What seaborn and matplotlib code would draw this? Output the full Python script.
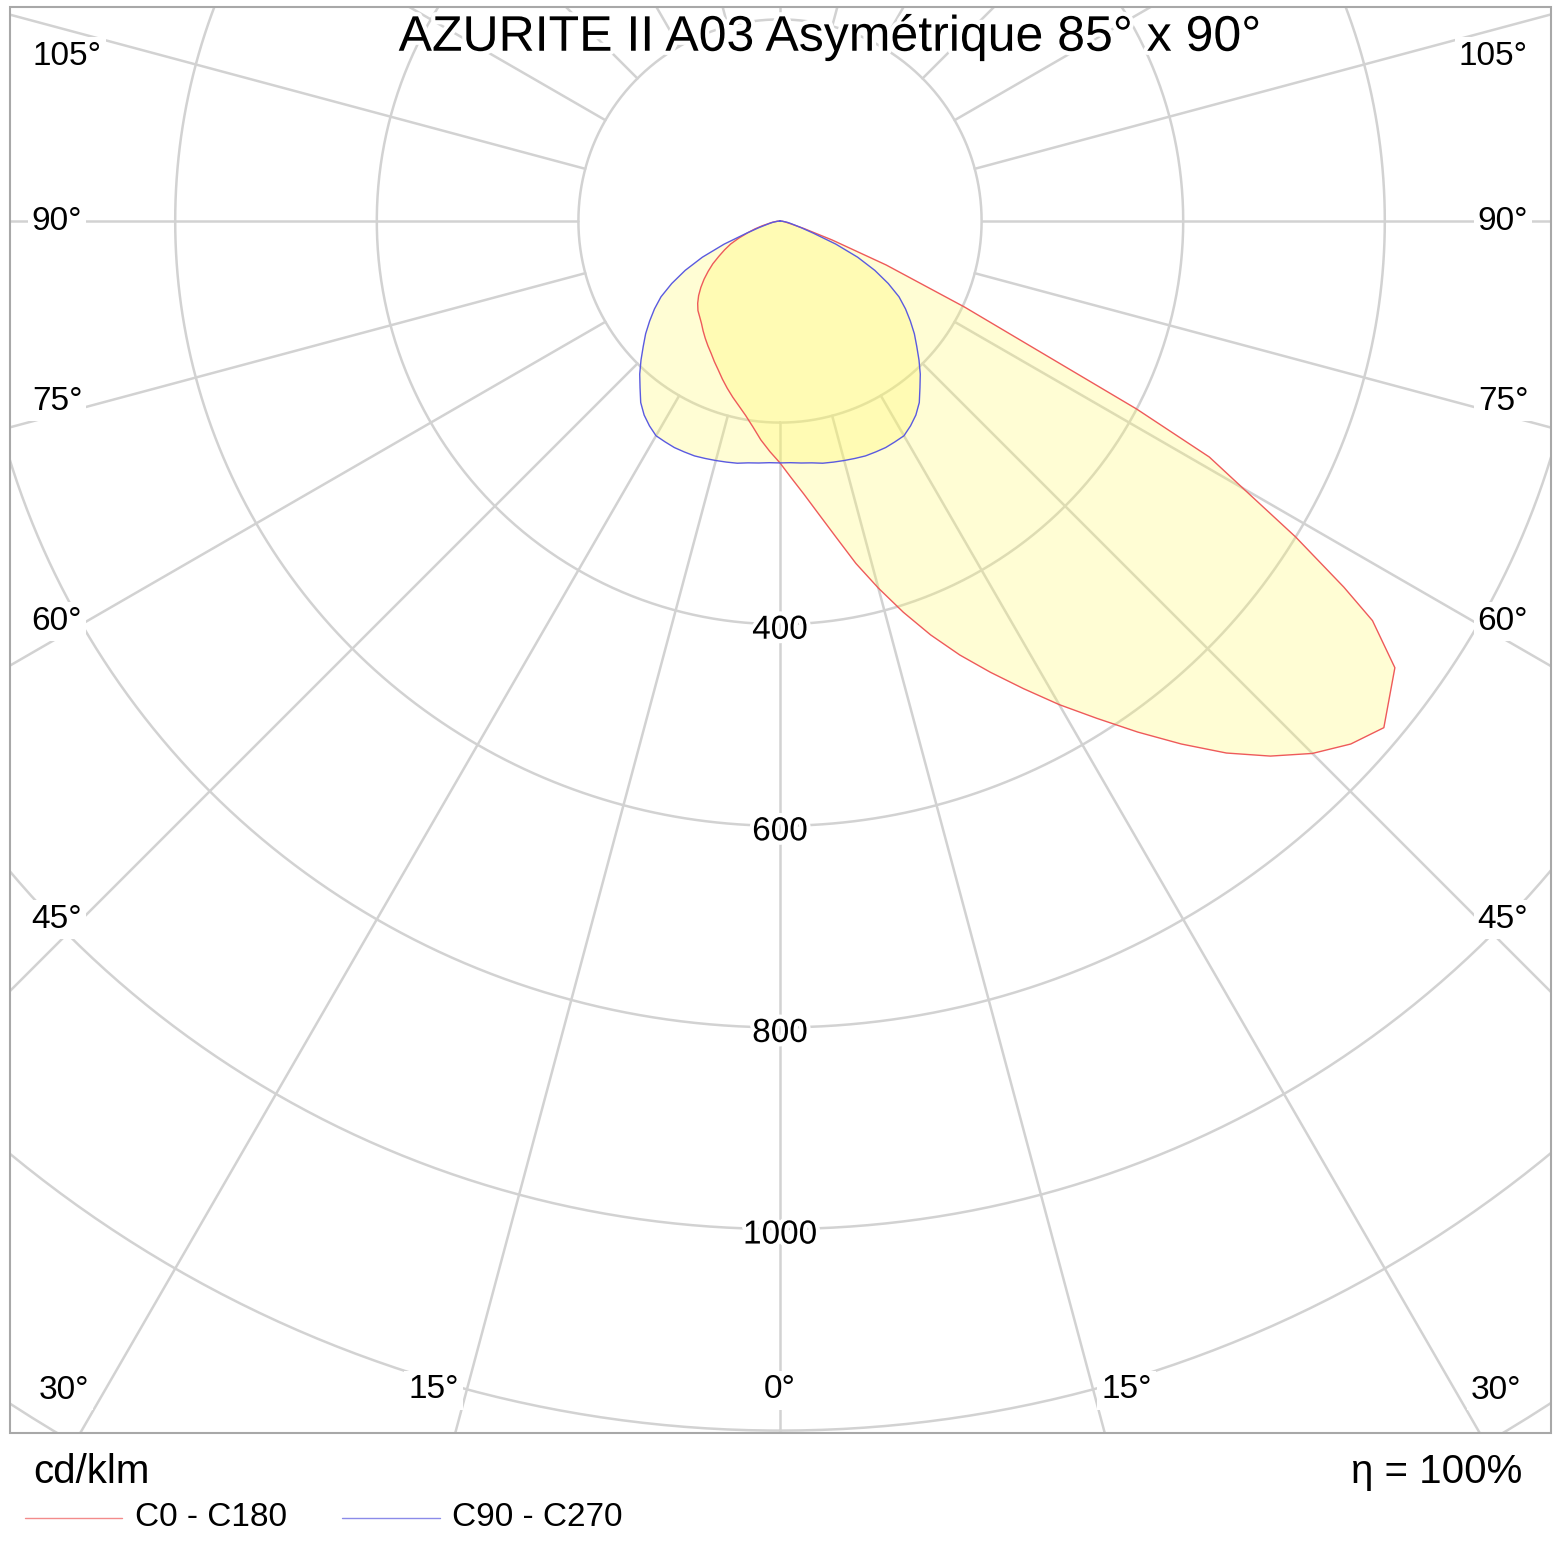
import numpy as np
import matplotlib
matplotlib.use("Agg")
import matplotlib.pyplot as plt
import matplotlib.patheffects as pe
from matplotlib.patches import Rectangle
from matplotlib.lines import Line2D
import seaborn as sns

# --- Données photométriques (cd/klm) ---
gamma_c0 = [0, 2.5, 5, 7.5, 10, 12.5, 15, 17.5, 20, 22.5, 25, 27.5, 30, 32.5, 35, 37.5, 40,
            42.5, 45, 47.5, 50, 54, 56, 57, 58.5, 59.7, 61.2, 62.2, 65, 67.5, 70, 72.5, 75,
            80, 85, 90]
i_c0 = [240, 255, 272, 293, 318, 348, 377, 407, 437, 466, 494, 523, 554, 585, 619, 654, 689,
        720, 747, 768, 782, 754, 709, 667, 600, 543, 486, 400, 202, 114, 55, 25, 12,
        5, 2, 0]

gamma_c180 = [0, 2.5, 5, 7.5, 10, 12.5, 15, 17.5, 20, 22.5, 25, 27.5, 30, 32.5, 35, 37.5, 40,
              42.5, 45, 47.5, 50, 52.5, 55, 57.5, 60, 62.5, 65, 67.5, 70, 72.5, 75, 80, 85, 90]
i_c180 = [240, 229, 218, 206, 196, 188, 181, 174, 167, 160, 154, 148, 143, 138, 133, 128, 124,
          120.5, 115.5, 109.5, 102.5, 95, 87, 79, 70, 62, 54, 44, 34, 26, 18, 8, 3, 0]

gamma_c90 = [0, 2.5, 5, 7.5, 10, 12.5, 15, 17.5, 20, 22.5, 25, 27.5, 30, 32.5, 35, 37.5, 40,
             42.5, 45, 47.5, 50, 52.5, 55, 57.5, 60, 62.5, 65, 67.5, 70, 72.5, 75, 77.5, 80,
             85, 90]
i_c90 = [240, 240, 241, 242, 244, 245, 246, 247, 248, 248, 248, 247, 246, 241, 235, 227, 216,
         206, 195, 184, 174, 163, 152, 140, 124, 106, 85, 60, 35, 22, 14, 10, 7,
         2, 0]
i_c270 = list(i_c90)

rings = [200, 400, 600, 800, 1000, 1200, 1400]
ring_labels = [400, 600, 800, 1000]
spokes = list(range(0, 360, 15))
side_angles = [105, 90, 75, 60, 45]
bottom_angles = [30, 15, 0, 15, 30]
bottom_sides = [-1, -1, 0, 1, 1]

title = "AZURITE II A03 Asymétrique 85° x 90°"
series_names = ["C0 - C180", "C90 - C270"]

# --- Style ---
sns.set_theme(style="white")
plt.rcParams["font.family"] = ["Liberation Sans", "DejaVu Sans"]
plt.rcParams["text.color"] = "black"

W, H = 1562, 1562
cx, cy = 780, 221          # centre du diagramme (pixels depuis le haut)
scale = 1.008              # pixels par cd/klm
rmax = 1500

grid_col = "#d2d2d2"
red = "#ee5a5a"
blue = "#5a5ae0"
fill_col = "#fff860"

fig = plt.figure(figsize=(W / 100, H / 100), dpi=100)
R = rmax * scale
ax = fig.add_axes([(cx - R) / W, (H - cy - R) / H, 2 * R / W, 2 * R / H], projection="polar")
ax.set_theta_zero_location("S")
ax.set_theta_direction(1)
ax.set_ylim(0, rmax)
ax.grid(False)
ax.spines["polar"].set_visible(False)
ax.patch.set_visible(False)

# cadre
x0, y0, x1, y1 = 10, 7, 1551, 1433
clip = Rectangle((x0 / W, (H - y1) / H), (x1 - x0) / W, (y1 - y0) / H, transform=fig.transFigure)
frame = Rectangle((x0 / W, (H - y1) / H), (x1 - x0) / W, (y1 - y0) / H, transform=fig.transFigure,
                  fill=False, ec="#a8a8a8", lw=1.5, zorder=10)
fig.add_artist(frame)

# grille
t_full = np.linspace(0, 2 * np.pi, 721)
for rv in rings:
    ax.plot(t_full, np.full_like(t_full, rv), color=grid_col, lw=1.8, zorder=1)
for a in spokes:
    ax.plot([np.deg2rad(a)] * 2, [200, rmax], color=grid_col, lw=1.8, zorder=1)

# courbes
theta_a = np.deg2rad(np.concatenate([-np.array(gamma_c180)[::-1], gamma_c0]))
r_a = np.concatenate([np.array(i_c180)[::-1], i_c0])
theta_b = np.deg2rad(np.concatenate([-np.array(gamma_c90)[::-1], gamma_c90]))
r_b = np.concatenate([np.array(i_c270)[::-1], i_c90])

ax.fill(theta_a, r_a, color=fill_col, alpha=0.27, lw=0, zorder=2)
ax.fill(theta_b, r_b, color=fill_col, alpha=0.27, lw=0, zorder=2)
sns.lineplot(x=theta_a, y=r_a, sort=False, estimator=None, color=red, lw=1.0, ax=ax, zorder=3)
sns.lineplot(x=theta_b, y=r_b, sort=False, estimator=None, color=blue, lw=1.0, ax=ax, zorder=3)
ax.set_xlabel("")
ax.set_ylabel("")
ax.set_xticks([])
ax.set_yticks([])

for art in ax.lines + ax.patches:
    art.set_clip_path(clip)

halo = [pe.withStroke(linewidth=6, foreground="white")]

# étiquettes radiales
for v in ring_labels:
    ax.text(0, v + 6, str(v), ha="center", va="center", fontsize=24,
            path_effects=halo, zorder=6)

# étiquettes angulaires
box = dict(fc="white", ec="none", pad=3)
for a in side_angles:
    ta = a + 1 if a < 90 else (a if a == 90 else a - 2)
    dist = 713 if a > 90 else 723
    rr = dist / scale / np.sin(np.deg2rad(ta))
    for s in (-1, 1):
        ax.text(np.deg2rad(s * ta), rr, f"{a}°", ha="center", va="center", fontsize=24,
                bbox=box, zorder=6)
for a, s in zip(bottom_angles, bottom_sides):
    ta = a + 1.5 if a > 0 else 0
    rr = 1169 / scale / np.cos(np.deg2rad(ta))
    ax.text(np.deg2rad(s * ta), rr, f"{a}°", ha="center", va="center", fontsize=24,
            bbox=box, zorder=6)

fig.text(830 / W, 1 - 37 / H, title, ha="center", va="center", fontsize=36,
         path_effects=halo, zorder=12)

# bas de page
fig.text(33 / W, 1 - 1472 / H, "cd/klm", ha="left", va="center", fontsize=29)
fig.text(1522 / W, 1 - 1472 / H, "η = 100%", ha="right", va="center", fontsize=29)
for (xa, xb, xt), col, name in zip([(25, 122, 135), (342, 440, 452)], [red, blue], series_names):
    fig.add_artist(Line2D([xa / W, xb / W], [1 - 1518 / H] * 2, transform=fig.transFigure,
                          color=col, lw=1.0, alpha=0.7))
    fig.text(xt / W, 1 - 1518 / H, name, ha="left", va="center", fontsize=24)

fig.savefig("out.png", dpi=100, facecolor="white")
